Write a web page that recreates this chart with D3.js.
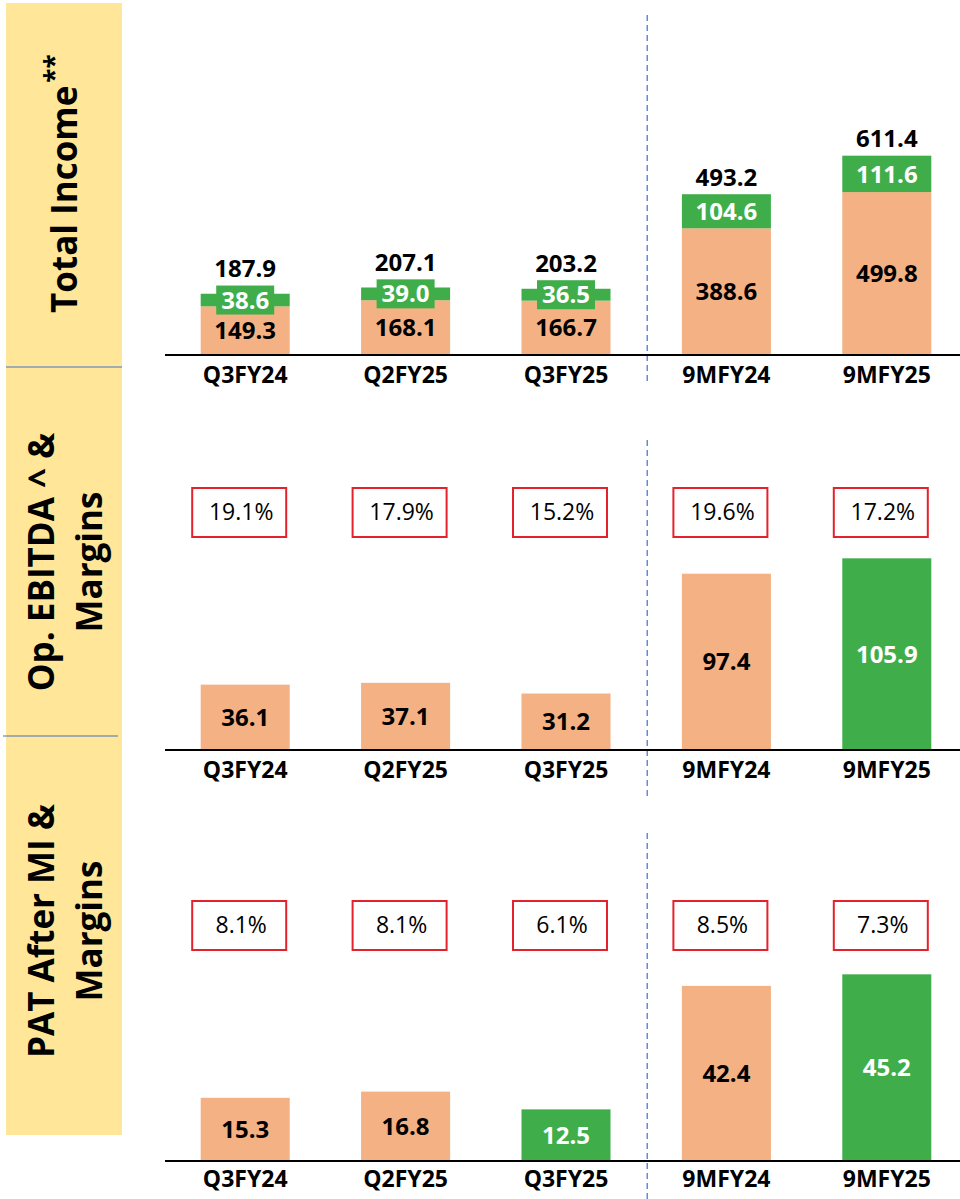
<!DOCTYPE html>
<html>
<head>
<meta charset="utf-8">
<script src="https://cdn.jsdelivr.net/npm/d3@7"></script>
<style>
  body { margin: 0; background: #fff; }
  svg { display: block; font-family: "Open Sans", sans-serif; }
</style>
</head>
<body>
<div id="chart"></div>
<script>
// values
var categories = ["Q3FY24", "Q2FY25", "Q3FY25", "9MFY24", "9MFY25"];

var incomeCore = [149.3, 168.1, 166.7, 388.6, 499.8];
var incomeOther = [38.6, 39.0, 36.5, 104.6, 111.6];
var incomeTotal = [187.9, 207.1, 203.2, 493.2, 611.4];

var ebitda = [36.1, 37.1, 31.2, 97.4, 105.9];
var ebitdaMargin = ["19.1%", "17.9%", "15.2%", "19.6%", "17.2%"];
var ebitdaGreen = ["9MFY25"];

var pat = [15.3, 16.8, 12.5, 42.4, 45.2];
var patMargin = ["8.1%", "8.1%", "6.1%", "8.5%", "7.3%"];
var patGreen = ["Q3FY25", "9MFY25"];

var orange = "#f4b183", green = "#3fae4a", yellow = "#ffe699",
    blue = "#4472c4", dashBlue = "#3b6fd6", red = "#e4222b";

var width = 960, height = 1199;

var svg = d3.select("#chart").append("svg")
    .attr("width", width)
    .attr("height", height);

var x = d3.scaleBand().domain(categories)
    .range([165, 967])
    .paddingInner(0.445)
    .paddingOuter(0.2225);
var bw = x.bandwidth();

// left yellow label column
svg.append("rect").attr("x", 6).attr("y", 3).attr("width", 116).attr("height", 1132)
    .attr("fill", yellow);
svg.append("line").attr("x1", 6).attr("x2", 122).attr("y1", 367).attr("y2", 367)
    .attr("stroke", blue).attr("stroke-width", 1.2);
svg.append("line").attr("x1", 3).attr("x2", 118).attr("y1", 736).attr("y2", 736)
    .attr("stroke", blue).attr("stroke-width", 1.2);

// titles
var t1 = svg.append("text")
    .attr("transform", "translate(77,313) rotate(-90)")
    .attr("font-size", 35).attr("font-weight", 700).attr("fill", "#000");
t1.append("tspan").text("Total Income");
t1.append("tspan").attr("dx", 3).attr("dy", -13).attr("font-size", 26).text("**");

function twoLineTitle(lines, cy) {
    lines.forEach(function(l, i) {
        svg.append("text")
            .attr("transform", "translate(" + (54 + i * 48) + "," + cy + ") rotate(-90)")
            .attr("text-anchor", "middle")
            .attr("font-size", 35).attr("font-weight", 700).attr("fill", "#000")
            .text(l);
    });
}
twoLineTitle(["Op. EBITDA ^ &", "Margins"], 562);
twoLineTitle(["PAT After MI &", "Margins"], 931);

var sepX = (x("Q3FY25") + bw + x("9MFY24")) / 2 + 1;

function baseAxis(base, labelY, dashTop, dashBottom) {
    svg.append("line").attr("x1", sepX).attr("x2", sepX)
        .attr("y1", dashTop).attr("y2", dashBottom)
        .attr("stroke", dashBlue).attr("stroke-width", 1.2).attr("stroke-dasharray", "6,4");

    var ax = svg.append("g")
        .attr("transform", "translate(0," + base + ")")
        .call(d3.axisBottom(x).tickSize(0).tickPadding(labelY - base - 8));
    ax.select(".domain").remove();
    ax.selectAll("text")
        .attr("font-family", "'Open Sans', sans-serif")
        .attr("font-size", 23).attr("font-weight", 700).attr("fill", "#000")
        .attr("dy", "0.35em");

    svg.append("line").attr("x1", 165).attr("x2", 960)
        .attr("y1", base).attr("y2", base)
        .attr("stroke", "#000").attr("stroke-width", 2);
}

function valueLabel(g, cx, cy, txt, col) {
    g.append("text")
        .attr("x", cx).attr("y", cy).attr("dy", "0.36em")
        .attr("text-anchor", "middle")
        .attr("font-size", 24).attr("font-weight", 700)
        .attr("fill", col).text(txt);
}

// ---------- panel 1: Total Income ----------
var y1 = d3.scaleLinear().domain([0, 620]).range([355, 355 - 620 * 0.326]);
var p1 = svg.append("g");

p1.selectAll(".core").data(categories).enter().append("rect")
    .attr("x", function(d) { return x(d); })
    .attr("width", bw)
    .attr("y", function(d, i) { return y1(incomeCore[i]); })
    .attr("height", function(d, i) { return y1(0) - y1(incomeCore[i]); })
    .attr("fill", orange);

p1.selectAll(".other").data(categories).enter().append("rect")
    .attr("x", function(d) { return x(d); })
    .attr("width", bw)
    .attr("y", function(d, i) { return y1(incomeTotal[i]); })
    .attr("height", function(d, i) { return y1(incomeCore[i]) - y1(incomeTotal[i]); })
    .attr("fill", green);

categories.forEach(function(c, i) {
    var cx = x(c) + bw / 2;
    valueLabel(p1, cx, (y1(0) + y1(incomeCore[i])) / 2, incomeCore[i].toFixed(1), "#000");
    var gy = (y1(incomeCore[i]) + y1(incomeTotal[i])) / 2;
    p1.append("rect").attr("x", cx - 29).attr("y", gy - 14.5)
        .attr("width", 58).attr("height", 29).attr("fill", green);
    valueLabel(p1, cx, gy, incomeOther[i].toFixed(1), "#fff");
    var topY = Math.min(y1(incomeTotal[i]), gy - 14.5);
    valueLabel(p1, cx, topY - 17, incomeTotal[i].toFixed(1), "#000");
});
baseAxis(355, 383, 15, 385);

// ---------- panels with margin boxes ----------
function marginPanel(vals, margins, greens, y, boxTop, labelY, dashTop, dashBottom) {
    var g = svg.append("g");
    g.selectAll("rect.bar").data(categories).enter().append("rect")
        .attr("x", function(d) { return x(d); })
        .attr("width", bw)
        .attr("y", function(d, i) { return y(vals[i]); })
        .attr("height", function(d, i) { return y(0) - y(vals[i]); })
        .attr("fill", function(d) { return greens.indexOf(d) >= 0 ? green : orange; });

    categories.forEach(function(c, i) {
        var cx = x(c) + bw / 2;
        var isGreen = greens.indexOf(c) >= 0;
        valueLabel(g, cx, (y(0) + y(vals[i])) / 2, vals[i].toFixed(1), isGreen ? "#fff" : "#000");

        g.append("rect").attr("x", cx - 6 - 47).attr("y", boxTop)
            .attr("width", 94).attr("height", 49)
            .attr("fill", "#fff").attr("stroke", red).attr("stroke-width", 2);
        g.append("text").attr("x", cx - 4).attr("y", boxTop + 32)
            .attr("text-anchor", "middle")
            .attr("font-size", 23).attr("fill", "#000")
            .text(margins[i]);
    });
    baseAxis(y(0), labelY, dashTop, dashBottom);
}

var y2 = d3.scaleLinear().domain([0, 110]).range([750, 750 - 110 * 1.81]);
marginPanel(ebitda, ebitdaMargin, ebitdaGreen, y2, 488, 778, 440, 800);

var y3 = d3.scaleLinear().domain([0, 50]).range([1161, 1161 - 50 * 4.13]);
marginPanel(pat, patMargin, patGreen, y3, 901, 1187, 833, 1199);
</script>
</body>
</html>
